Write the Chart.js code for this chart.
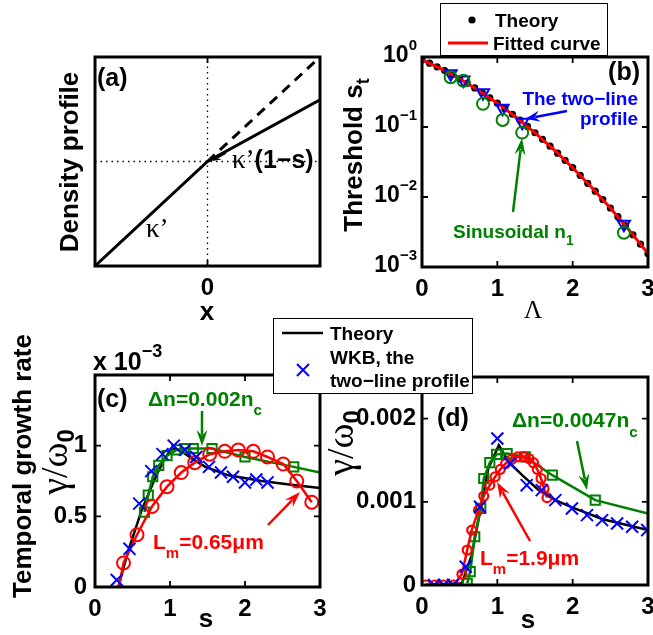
<!DOCTYPE html>
<html>
<head>
<meta charset="utf-8">
<script src="https://cdn.jsdelivr.net/npm/chart.js@4.4.1/dist/chart.umd.min.js"></script>
<style>
html, body { margin: 0; padding: 0; background: #fff; }
#wrap { position: relative; width: 653px; height: 635px; overflow: hidden; }
canvas { position: absolute; left: 0; top: 0; }
</style>
</head>
<body>
<div id="wrap">
  <canvas id="pa" width="653" height="635"></canvas>
  <canvas id="pb" width="653" height="635"></canvas>
  <canvas id="pc" width="653" height="635"></canvas>
  <canvas id="pd" width="653" height="635"></canvas>
</div>
<script>
// ---- panel (a): two-line density profile sketch
const aLineX = [-1, 0, 1];
const aLineY = [-1, 0, 0.59];
const aDashX = [0, 1];
const aDashY = [0, 1];
const aXTicks = [0];
const aXTickLabels = ['0'];

// ---- panel (b): threshold s_t vs Lambda
const bTheoryL = [0, 0.1, 0.2, 0.3, 0.4, 0.5, 0.6, 0.7, 0.8, 0.9, 1.0, 1.1, 1.2, 1.3, 1.4, 1.5,
                  1.6, 1.7, 1.8, 1.9, 2.0, 2.1, 2.2, 2.3, 2.4, 2.5, 2.6, 2.7, 2.8, 2.9, 3.0];
const bTheoryS = [0.912, 0.816, 0.725, 0.640, 0.561, 0.488, 0.422, 0.362, 0.308, 0.261, 0.219,
                  0.183, 0.152, 0.125, 0.102, 0.0827, 0.0666, 0.0533, 0.0423, 0.0334, 0.0262,
                  0.0204, 0.0157, 0.0121, 0.0092, 0.00696, 0.00523, 0.0039, 0.00289, 0.00212, 0.00155];
const bFitL = [0, 0.25, 0.5, 0.75, 1.0, 1.25, 1.5, 1.75, 2.0, 2.25, 2.5, 2.75, 3.0];
const bFitS = [0.912, 0.682, 0.488, 0.334, 0.219, 0.1376, 0.0827, 0.0475, 0.0262, 0.0138, 0.00696, 0.00336, 0.00155];
const bMarkL = [0.38, 0.55, 0.81, 1.07, 1.33, 2.68];
const bTwoLineS = [0.575, 0.468, 0.309, 0.186, 0.117, 0.00407];
const bSinS = [0.513, 0.457, 0.214, 0.126, 0.0832, 0.00309];
const bXTicks = [0, 1, 2, 3];
const bXTickLabels = ['0', '1', '2', '3'];
const bYTicks = [1, 0.1, 0.01, 0.001];
const bYTickExp = ['0', '\u22121', '\u22122', '\u22123'];

// ---- panel (c): growth rate, units of 1e-3
const cTheoryS = [0.31, 0.44, 0.62, 0.8, 0.91, 1.02, 1.13, 1.29, 1.47, 1.78, 2.22, 2.67, 3.0];
const cTheoryG = [0, 0.25, 0.54, 0.77, 0.89, 0.98, 0.97, 0.91, 0.85, 0.79, 0.75, 0.72, 0.70];
const cWkbS = [0.29, 0.46, 0.59, 0.75, 0.9, 1.05, 1.2, 1.35, 1.52, 1.68, 1.84, 2.0, 2.15, 2.3];
const cWkbG = [0.05, 0.27, 0.59, 0.82, 0.94, 1.0, 0.97, 0.92, 0.85, 0.81, 0.78, 0.74, 0.76, 0.74];
const cDnS = [0.66, 0.71, 0.77, 0.85, 0.96, 1.09, 1.2, 1.31, 1.56, 2.0, 2.65, 3.0];
const cDnG = [0.53, 0.65, 0.78, 0.86, 0.93, 0.97, 0.98, 0.98, 0.98, 0.92, 0.85, 0.81];
const cLmS = [0.32, 0.38, 0.56, 0.76, 0.96, 1.15, 1.33, 1.53, 1.73, 1.91, 2.11, 2.30, 2.51, 2.69, 2.89];
const cLmG = [0, 0.17, 0.37, 0.57, 0.71, 0.81, 0.88, 0.94, 0.96, 0.97, 0.96, 0.92, 0.87, 0.75, 0.60];
const cYTicks = [0, 0.5, 1];
const cYTickLabels = ['0', '0.5', '1'];

// ---- panel (d): growth rate, units of 1e-3
const dTheoryS = [0.05, 0.53, 0.66, 0.77, 0.88, 1.02, 1.15, 1.33, 1.55, 1.77, 2.0, 2.4, 3.0];
const dTheoryG = [0, 0.02, 0.36, 0.88, 1.40, 1.68, 1.48, 1.32, 1.14, 1.02, 0.93, 0.79, 0.66];
const dWkbS = [0.16, 0.29, 0.41, 0.58, 0.77, 1.0, 1.17, 1.39, 1.59, 1.77, 1.99, 2.19, 2.39, 2.59, 2.79, 2.99];
const dWkbG = [0, 0, 0, 0.22, 0.94, 1.76, 1.46, 1.20, 1.14, 1.02, 0.92, 0.84, 0.78, 0.74, 0.70, 0.66];
const dDnS = [0.6, 0.64, 0.7, 0.78, 0.82, 0.9, 0.99, 1.13, 1.37, 1.73, 2.3, 3.0];
const dDnG = [0.02, 0.16, 0.58, 0.92, 1.28, 1.47, 1.57, 1.58, 1.54, 1.32, 1.02, 0.86];
const dLmS = [0.05, 0.17, 0.28, 0.42, 0.53, 0.6, 0.66, 0.75, 0.82, 0.9, 0.97, 1.04, 1.11,
              1.19, 1.27, 1.35, 1.42, 1.48, 1.53, 1.58, 1.62, 1.66];
const dLmG = [0, 0, 0, 0, 0.13, 0.42, 0.66, 0.9, 1.07, 1.2, 1.3, 1.39, 1.46,
              1.51, 1.54, 1.54, 1.52, 1.47, 1.39, 1.28, 1.16, 1.05];
const dYTicks = [0, 1, 2];
const dYTickLabels = ['0', '0.001', '0.002'];

const sTicks = [0, 1, 2, 3];
const sTickLabels = ['0', '1', '2', '3'];

const W = 653, H = 635;
const SANS = '"Liberation Sans", Arial, Helvetica, sans-serif';
const SERIF = '"Liberation Serif", "Times New Roman", serif';
const GREEN = '#008000', BLUE = '#0000ff', RED = '#ff0000';
const YW = 85, XH = 40;

function pts(xs, ys) {
    return xs.map((x, i) => ({ x: x, y: ys[i] }));
}

function zeroPad(s) {
    s.paddingLeft = 0; s.paddingRight = 0; s.paddingTop = 0; s.paddingBottom = 0;
}

function scale(type, min, max, ticks, labels, pad) {
    return {
        type: type, min: min, max: max,
        grid: { display: false, drawTicks: false },
        border: { display: false },
        afterBuildTicks: s => { s.ticks = ticks.map(v => ({ value: v })); },
        ticks: {
            display: labels.length > 0,
            autoSkip: false, maxRotation: 0, padding: pad,
            color: '#000',
            font: { family: SANS, size: 24, weight: 'bold' },
            callback: (v, i) => labels[i]
        },
        afterFit: s => {
            if (s.isHorizontal()) s.height = XH; else s.width = YW;
            zeroPad(s);
        }
    };
}

function rich(ctx, x, y, parts, align, rotate) {
    ctx.save();
    ctx.translate(x, y);
    if (rotate) ctx.rotate(-Math.PI / 2);
    ctx.textBaseline = 'alphabetic';
    let w = 0;
    parts.forEach(p => { ctx.font = p[1]; w += ctx.measureText(p[0]).width; });
    let cx = align === 'center' ? -w / 2 : (align === 'right' ? -w : 0);
    parts.forEach(p => {
        ctx.font = p[1];
        ctx.fillStyle = p[2] || '#000';
        ctx.fillText(p[0], cx, p[3] || 0);
        cx += ctx.measureText(p[0]).width;
    });
    ctx.restore();
}

function arrow(ctx, x1, y1, x2, y2, color, lw, hl, hw) {
    const a = Math.atan2(y2 - y1, x2 - x1);
    const c = Math.cos(a), s = Math.sin(a);
    ctx.save();
    ctx.strokeStyle = color; ctx.fillStyle = color; ctx.lineWidth = lw;
    ctx.beginPath();
    ctx.moveTo(x1, y1);
    ctx.lineTo(x2 - hl * 0.7 * c, y2 - hl * 0.7 * s);
    ctx.stroke();
    const bx = x2 - hl * c, by = y2 - hl * s;
    ctx.beginPath();
    ctx.moveTo(x2, y2);
    ctx.lineTo(bx + hw / 2 * s, by - hw / 2 * c);
    ctx.lineTo(x2 - hl * 0.65 * c, y2 - hl * 0.65 * s);
    ctx.lineTo(bx - hw / 2 * s, by + hw / 2 * c);
    ctx.closePath();
    ctx.fill();
    ctx.restore();
}

function frame(chart, xt, yt) {
    const ctx = chart.ctx, a = chart.chartArea;
    ctx.save();
    ctx.strokeStyle = '#000';
    ctx.lineWidth = 1.8;
    ctx.beginPath();
    xt.forEach(v => {
        const p = chart.scales.x.getPixelForValue(v);
        ctx.moveTo(p, a.bottom); ctx.lineTo(p, a.bottom - 6);
        ctx.moveTo(p, a.top); ctx.lineTo(p, a.top + 6);
    });
    yt.forEach(v => {
        const p = chart.scales.y.getPixelForValue(v);
        ctx.moveTo(a.left, p); ctx.lineTo(a.left + 6, p);
        ctx.moveTo(a.right, p); ctx.lineTo(a.right - 6, p);
    });
    ctx.stroke();
    ctx.lineWidth = 3;
    ctx.strokeRect(a.left, a.top, a.right - a.left, a.bottom - a.top);
    ctx.restore();
}

function panel(id, box, xs, ys, datasets, draw) {
    return new Chart(document.getElementById(id), {
        type: 'line',
        data: { datasets: datasets },
        options: {
            responsive: false,
            animation: false,
            devicePixelRatio: 1,
            events: [],
            layout: {
                autoPadding: false,
                padding: { left: box.l - YW, top: box.t, right: W - box.r, bottom: H - box.b - XH }
            },
            plugins: { legend: { display: false }, tooltip: { enabled: false } },
            elements: { line: { tension: 0 } },
            scales: { x: xs, y: ys }
        },
        plugins: [{ id: 'decor', afterDraw: draw }]
    });
}

function lineSet(xs, ys, color, width, extra) {
    return Object.assign({
        data: pts(xs, ys), borderColor: color, borderWidth: width,
        pointRadius: 0, fill: false, showLine: true
    }, extra || {});
}

function markSet(xs, ys, color, style, r, extra) {
    return Object.assign({
        data: pts(xs, ys), borderColor: color, borderWidth: 2,
        pointStyle: style, pointRadius: r, pointBorderWidth: 2,
        pointBorderColor: color, pointBackgroundColor: 'rgba(0,0,0,0)',
        showLine: false, fill: false
    }, extra || {});
}

const B = 'bold ';

// ---------- (a)
panel('pa', { l: 95, t: 57, r: 320, b: 266 },
    scale('linear', -1, 1, aXTicks, aXTickLabels, 8),
    scale('linear', -1, 1, [], [], 8),
    [
        lineSet(aLineX, aLineY, '#000', 3, { order: 1 }),
        lineSet(aDashX, aDashY, '#000', 3, { borderDash: [10, 7], order: 2 }),
        lineSet([0, 0], [-1, 1], '#000', 1.3, { borderDash: [1.5, 4], order: 3 }),
        lineSet([-1, 1], [0, 0], '#000', 1.3, { borderDash: [1.5, 4], order: 4 })
    ],
    chart => {
        const ctx = chart.ctx;
        frame(chart, aXTicks, []);
        rich(ctx, 97, 86, [['(a)', B + '25px ' + SANS]], 'left');
        rich(ctx, 146, 237, [['\u03ba\u2019', '27px ' + SERIF]], 'left');
        rich(ctx, 232, 168, [['\u03ba\u2019', '27px ' + SERIF], ['(1\u2212s)', B + '25px ' + SANS]], 'left');
        arrow(ctx, 226, 153, 212, 161, '#000', 1.5, 9, 7);
        rich(ctx, 78, 162, [['Density profile', B + '26px ' + SANS]], 'center', true);
        rich(ctx, 207, 320, [['x', B + '26px ' + SANS]], 'center');
    });

// ---------- (b)
panel('pb', { l: 422, t: 57, r: 648, b: 267 },
    scale('linear', 0, 3, bXTicks, bXTickLabels, 8),
    scale('logarithmic', 0.001, 1, bYTicks, [], 8),
    [
        markSet(bMarkL, bTwoLineS, BLUE, 'triangle', 7, { pointRotation: 180, order: 2 }),
        markSet(bMarkL, bSinS, GREEN, 'circle', 6, { order: 1 }),
        lineSet(bFitL, bFitS, RED, 3, { order: 3 }),
        { data: pts(bTheoryL, bTheoryS), showLine: false, pointRadius: 3.6, pointStyle: 'circle',
          pointBackgroundColor: '#000', pointBorderColor: '#000', pointBorderWidth: 0, order: 4 }
    ],
    chart => {
        const ctx = chart.ctx;
        frame(chart, bXTicks, bYTicks);
        bYTicks.forEach((v, i) => {
            const p = chart.scales.y.getPixelForValue(v);
            rich(ctx, 417, p + 5, [['10', B + '23px ' + SANS], [bYTickExp[i], B + '15px ' + SANS, '#000', -12]], 'right');
        });
        rich(ctx, 640, 80, [['(b)', B + '25px ' + SANS]], 'right');
        rich(ctx, 638, 105, [['The two\u2212line', B + '19px ' + SANS, BLUE]], 'right');
        rich(ctx, 638, 125, [['profile', B + '19px ' + SANS, BLUE]], 'right');
        arrow(ctx, 567, 111, 525, 119, BLUE, 2.5, 15, 11);
        rich(ctx, 453, 238, [['Sinusoidal n', B + '19px ' + SANS, GREEN], ['1', B + '14px ' + SANS, GREEN, 7]], 'left');
        arrow(ctx, 513, 212, 522, 138, GREEN, 2.5, 17, 11);
        rich(ctx, 362, 155, [['Threshold s', B + '26px ' + SANS], ['t', B + '18px ' + SANS, '#000', 7]], 'center', true);
        rich(ctx, 533, 318, [['\u039b', '25px ' + SERIF]], 'center');
        // legend
        ctx.save();
        ctx.fillStyle = '#fff'; ctx.strokeStyle = '#000'; ctx.lineWidth = 1;
        ctx.fillRect(440.5, 3.5, 167, 52); ctx.strokeRect(440.5, 3.5, 167, 52);
        ctx.fillStyle = '#000';
        ctx.beginPath(); ctx.arc(472, 20, 3.6, 0, Math.PI * 2); ctx.fill();
        ctx.strokeStyle = RED; ctx.lineWidth = 3;
        ctx.beginPath(); ctx.moveTo(448, 43); ctx.lineTo(488, 43); ctx.stroke();
        ctx.restore();
        rich(ctx, 495, 27, [['Theory', B + '19px ' + SANS]], 'left');
        rich(ctx, 493, 50, [['Fitted curve', B + '19px ' + SANS]], 'left');
    });

// ---------- (c)
panel('pc', { l: 95, t: 375, r: 320, b: 587 },
    scale('linear', 0, 3, sTicks, sTickLabels, 8),
    scale('linear', 0, 1.5, cYTicks, cYTickLabels, 8),
    [
        markSet(cWkbS, cWkbG, BLUE, 'crossRot', 8.5, { order: 1 }),
        lineSet(cLmS, cLmG, RED, 2.5, { pointStyle: 'circle', pointRadius: cLmS.map((v, i) => i === 0 ? 0 : 6.5),
            pointBorderWidth: 2, pointBorderColor: RED, pointBackgroundColor: 'rgba(0,0,0,0)', order: 2 }),
        lineSet(cDnS, cDnG, GREEN, 2.5, { pointStyle: 'rect', pointRadius: cDnS.map((v, i) => i === cDnS.length - 1 ? 0 : 6.5),
            pointBorderWidth: 2, pointBorderColor: GREEN, pointBackgroundColor: 'rgba(0,0,0,0)', order: 3 }),
        lineSet(cTheoryS, cTheoryG, '#000', 2.5, { order: 4 })
    ],
    chart => {
        const ctx = chart.ctx;
        frame(chart, sTicks, cYTicks);
        rich(ctx, 97, 407, [['(c)', B + '25px ' + SANS]], 'left');
        rich(ctx, 93, 370, [['x 10', B + '25px ' + SANS], ['\u22123', B + '18px ' + SANS, '#000', -13]], 'left');
        rich(ctx, 148, 406, [['\u0394n=0.002n', B + '21px ' + SANS, GREEN], ['c', B + '15px ' + SANS, GREEN, 9]], 'left');
        arrow(ctx, 202, 411, 202, 446, GREEN, 2.5, 16, 11);
        rich(ctx, 153, 549, [['L', B + '21px ' + SANS, RED], ['m', B + '15px ' + SANS, RED, 9], ['=0.65\u03bcm', B + '21px ' + SANS, RED]], 'left');
        arrow(ctx, 268, 525, 300, 492, RED, 2.5, 16, 11);
        rich(ctx, 31, 466, [['Temporal growth rate', B + '26px ' + SANS]], 'center', true);
        rich(ctx, 67, 462, [['\u03b3/\u03c9', '38px ' + SERIF], ['0', B + '24px ' + SANS, '#000', 7]], 'center', true);
        rich(ctx, 206, 627, [['s', B + '26px ' + SANS]], 'center');
    });

// ---------- (d)
panel('pd', { l: 422, t: 377, r: 648, b: 585 },
    scale('linear', 0, 3, sTicks, sTickLabels, 8),
    scale('linear', 0, 2.5, dYTicks, dYTickLabels, 6),
    [
        markSet(dWkbS, dWkbG, BLUE, 'crossRot', 8.5, { order: 1 }),
        lineSet(dLmS, dLmG, RED, 2.5, { pointStyle: 'circle', pointRadius: 4.5,
            pointBorderWidth: 2.2, pointBorderColor: RED, pointBackgroundColor: 'rgba(0,0,0,0)', order: 2 }),
        lineSet(dDnS, dDnG, GREEN, 2.5, { pointStyle: 'rect', pointRadius: dDnS.map((v, i) => i === dDnS.length - 1 ? 0 : 6.5),
            pointBorderWidth: 2, pointBorderColor: GREEN, pointBackgroundColor: 'rgba(0,0,0,0)', order: 3 }),
        lineSet(dTheoryS, dTheoryG, '#000', 2.5, { order: 4 })
    ],
    chart => {
        const ctx = chart.ctx;
        frame(chart, sTicks, dYTicks);
        rich(ctx, 437, 426, [['(d)', B + '25px ' + SANS]], 'left');
        rich(ctx, 512, 427, [['\u0394n=0.0047n', B + '21px ' + SANS, GREEN], ['c', B + '15px ' + SANS, GREEN, 10]], 'left');
        arrow(ctx, 577, 441, 587, 490, GREEN, 2.5, 16, 11);
        rich(ctx, 480, 565, [['L', B + '21px ' + SANS, RED], ['m', B + '15px ' + SANS, RED, 9], ['=1.9\u03bcm', B + '21px ' + SANS, RED]], 'left');
        arrow(ctx, 530, 541, 497, 482, RED, 2.5, 16, 11);
        rich(ctx, 353, 443, [['\u03b3/\u03c9', '38px ' + SERIF], ['0', B + '24px ' + SANS, '#000', 7]], 'center', true);
        rich(ctx, 528, 628, [['s', B + '26px ' + SANS]], 'center');
        // shared legend for (c)/(d)
        ctx.save();
        ctx.fillStyle = '#fff'; ctx.strokeStyle = '#000'; ctx.lineWidth = 1;
        ctx.fillRect(273.5, 318.5, 199, 75); ctx.strokeRect(273.5, 318.5, 199, 75);
        ctx.strokeStyle = '#000'; ctx.lineWidth = 2.5;
        ctx.beginPath(); ctx.moveTo(282, 333); ctx.lineTo(323, 333); ctx.stroke();
        ctx.strokeStyle = BLUE; ctx.lineWidth = 2;
        ctx.beginPath();
        ctx.moveTo(297, 364); ctx.lineTo(309, 376);
        ctx.moveTo(309, 364); ctx.lineTo(297, 376);
        ctx.stroke();
        ctx.restore();
        rich(ctx, 330, 340, [['Theory', B + '19px ' + SANS]], 'left');
        rich(ctx, 330, 364, [['WKB, the', B + '19px ' + SANS]], 'left');
        rich(ctx, 330, 387, [['two\u2212line profile', B + '19px ' + SANS]], 'left');
    });
</script>
</body>
</html>
